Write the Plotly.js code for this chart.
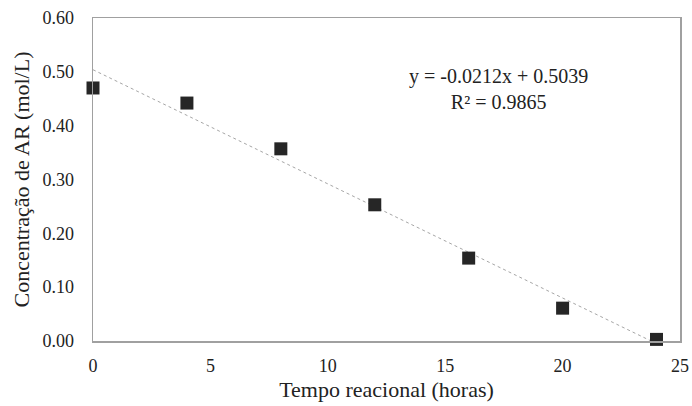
<!DOCTYPE html>
<html><head><meta charset="utf-8">
<script src="https://cdn.plot.ly/plotly-3.0.1.min.js"></script>
<style>html,body{margin:0;padding:0;background:#fff}#chart{width:692px;height:406px}</style>
</head><body><div id="chart"></div>
<script>
const tempo = [0, 4, 8, 12, 16, 20, 24];
const concentracao = [0.470, 0.442, 0.357, 0.253, 0.154, 0.061, 0.003];
const slope = -0.0212;
const intercept = 0.5039;
const r2 = 0.9865;
const trendX = [tempo[0], tempo[tempo.length - 1]];
const trendY = trendX.map(x => slope * x + intercept);
const xTicks = [0, 5, 10, 15, 20, 25];
const yTicks = [0, 0.1, 0.2, 0.3, 0.4, 0.5, 0.6];

const font = 'Liberation Serif, Times New Roman, serif';
const data = [
  {x: trendX, y: trendY, mode: 'lines', line: {color: '#a6a6a6', width: 1, dash: 'dot'}, hoverinfo: 'skip'},
  {x: tempo, y: concentracao, mode: 'markers', marker: {symbol: 'square', size: 13, color: '#262626'}, cliponaxis: false}
];
const axisCommon = {showgrid: false, zeroline: false, showline: true, linecolor: '#a0a0a0', linewidth: 1.5, mirror: true, ticks: '', tickfont: {family: font, size: 18, color: '#222'}};
const layout = {
  width: 692, height: 406,
  margin: {l: 93, r: 12, t: 18, b: 65},
  paper_bgcolor: '#fff', plot_bgcolor: '#fff',
  showlegend: false,
  font: {family: font, color: '#222'},
  xaxis: Object.assign({}, axisCommon, {range: [0, 25], tickvals: xTicks, ticktext: xTicks.map(String), ticklabelstandoff: 8,
    title: {text: 'Tempo reacional (horas)', font: {family: font, size: 22, color: '#222'}, standoff: 6}}),
  yaxis: Object.assign({}, axisCommon, {range: [0, 0.6], tickvals: yTicks, ticktext: yTicks.map(v => v.toFixed(2)), ticklabelstandoff: 14,
    title: {text: 'Concentração de AR (mol/L)', font: {family: font, size: 22, color: '#222'}, standoff: 6}}),
  annotations: [{
    xref: 'paper', yref: 'paper', x: 0.69, y: 0.78, xanchor: 'center', yanchor: 'middle', showarrow: false, align: 'center',
    text: 'y = ' + slope.toFixed(4) + 'x + ' + intercept.toFixed(4) + '<br>R² = ' + r2.toFixed(4),
    font: {family: font, size: 20, color: '#222'}
  }]
};
Plotly.newPlot('chart', data, layout, {staticPlot: true});
</script></body></html>
